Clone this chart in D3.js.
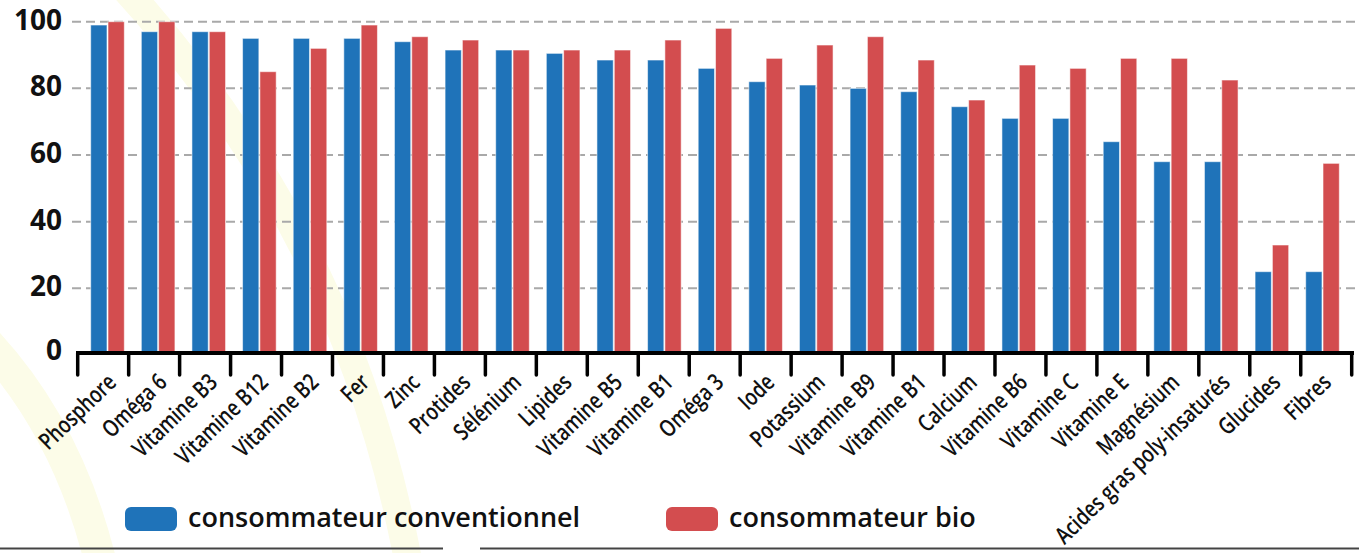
<!DOCTYPE html>
<html>
<head>
<meta charset="utf-8">
<script src="https://cdn.jsdelivr.net/npm/d3@7"></script>
<style>
  html, body { margin: 0; padding: 0; background: #fff; }
  svg { display: block; }
  text { font-family: "Open Sans", "DejaVu Sans", sans-serif; }
</style>
</head>
<body>
<svg id="chart" width="1359" height="553"></svg>
<script>
const categories = ["Phosphore","Oméga 6","Vitamine B3","Vitamine B12","Vitamine B2","Fer","Zinc","Protides","Sélénium","Lipides","Vitamine B5","Vitamine B1","Oméga 3","Iode","Potassium","Vitamine B9","Vitamine B1","Calcium","Vitamine B6","Vitamine C","Vitamine E","Magnésium","Acides gras poly-insaturés","Glucides","Fibres"];
const conventionnel = [99,97,97,95,95,95,94,91.5,91.5,90.5,88.5,88.5,86,82,81,80,79,74.5,71,71,64,58,58,25,25];
const bio = [100,100,97,85,92,99,95.5,94.5,91.5,91.5,91.5,94.5,98,89,93,95.5,88.5,76.5,87,86,89,89,82.5,33,57.5];
const yTicks = [0,20,40,60,80,100];
const seriesNames = ["consommateur conventionnel","consommateur bio"];
const seriesKeys = ["conv","bio"];
const colors = ["#1f73b9","#d34d4f"];

const svg = d3.select("#chart");
const keys = categories.map((c,i)=> i + "|" + c);
const data = keys.map((k,i)=>({key:k, name:categories[i], conv:conventionnel[i], bio:bio[i]}));

// background faint arcs
const bg = svg.append("g");
bg.append("path").attr("d","M 126,-10 Q 345,230 408,560").attr("fill","none")
  .attr("stroke","#fcfce8").attr("stroke-width",28);
bg.append("path").attr("d","M -25,330 Q 65,420 100,560").attr("fill","none")
  .attr("stroke","#fcfce8").attr("stroke-width",32);

const y = d3.scaleLinear().domain([0,100]).range([355, 21.7]);
const x = d3.scaleBand().domain(keys).range([90.7, 90.7 + 25*50.625]).padding(0);
const xs = d3.scaleBand().domain(seriesKeys).range([0, 33.6]).paddingInner(0.06);
const xTick = d3.scaleBand().domain(keys).range([77.7, 1351.7]).padding(0);

// gridlines
svg.append("g").selectAll("line").data(yTicks.filter(d=>d>0)).join("line")
  .attr("x1",72).attr("x2",1359)
  .attr("y1",d=>y(d)).attr("y2",d=>y(d))
  .attr("stroke","#a9a9a9").attr("stroke-width",2).attr("stroke-dasharray","9,5");

// y labels
svg.append("g").selectAll("text").data(yTicks).join("text")
  .attr("x",62).attr("y",d=>y(d)+ (d===0 ? 5 : 8))
  .attr("text-anchor","end")
  .attr("font-size",28).attr("font-weight",700).attr("fill","#111")
  .text(d=>d);

// bars
const groups = svg.append("g").selectAll("g").data(data).join("g")
  .attr("transform",d=>`translate(${x(d.key)},0)`);
groups.selectAll("rect").data(d=>seriesKeys.map((k,j)=>({k, v:d[k], j}))).join("rect")
  .attr("x",d=>xs(d.k)).attr("width",xs.bandwidth())
  .attr("y",d=>y(d.v)).attr("height",d=>y(0)-y(d.v))
  .attr("fill",d=>colors[d.j])
  .attr("stroke","rgba(255,255,255,0.55)").attr("stroke-width",1);

// x axis line & ticks
const axisG = svg.append("g");
axisG.append("line").attr("x1",76).attr("x2",1354).attr("y1",353).attr("y2",353)
  .attr("stroke","#000").attr("stroke-width",4);
const tickPos = keys.map(k=>xTick(k)).concat([xTick.range()[1]]);
axisG.selectAll("line.tick").data(tickPos).join("line").attr("class","tick")
  .attr("x1",d=>d).attr("x2",d=>d).attr("y1",353).attr("y2",375)
  .attr("stroke","#000").attr("stroke-width",3.5).attr("stroke-linecap","round");

// x labels
svg.append("g").selectAll("text").data(data).join("text")
  .attr("transform",d=>`translate(${x(d.key)+17+10},${384}) rotate(-44) scale(0.88,1.12)`)
  .attr("text-anchor","end")
  .attr("font-size",21).attr("font-weight",600).attr("fill","#111")
  .text(d=>d.name);

// legend
const legendItems = [{x:125, tx:188},{x:666, tx:729}];
const lg = svg.append("g");
lg.selectAll("rect").data(seriesNames).join("rect")
  .attr("x",(d,i)=>legendItems[i].x).attr("y",507).attr("width",52).attr("height",24)
  .attr("rx",6).attr("fill",(d,i)=>colors[i]);
lg.selectAll("text").data(seriesNames).join("text")
  .attr("x",(d,i)=>legendItems[i].tx).attr("y",527)
  .attr("font-size",27).attr("font-weight",600).attr("fill","#111")
  .text(d=>d);

// bottom rules
svg.append("line").attr("x1",0).attr("x2",443).attr("y1",548.5).attr("y2",548.5).attr("stroke","#444").attr("stroke-width",2);
svg.append("line").attr("x1",480).attr("x2",1359).attr("y1",548.5).attr("y2",548.5).attr("stroke","#444").attr("stroke-width",2);
</script>
</body>
</html>
